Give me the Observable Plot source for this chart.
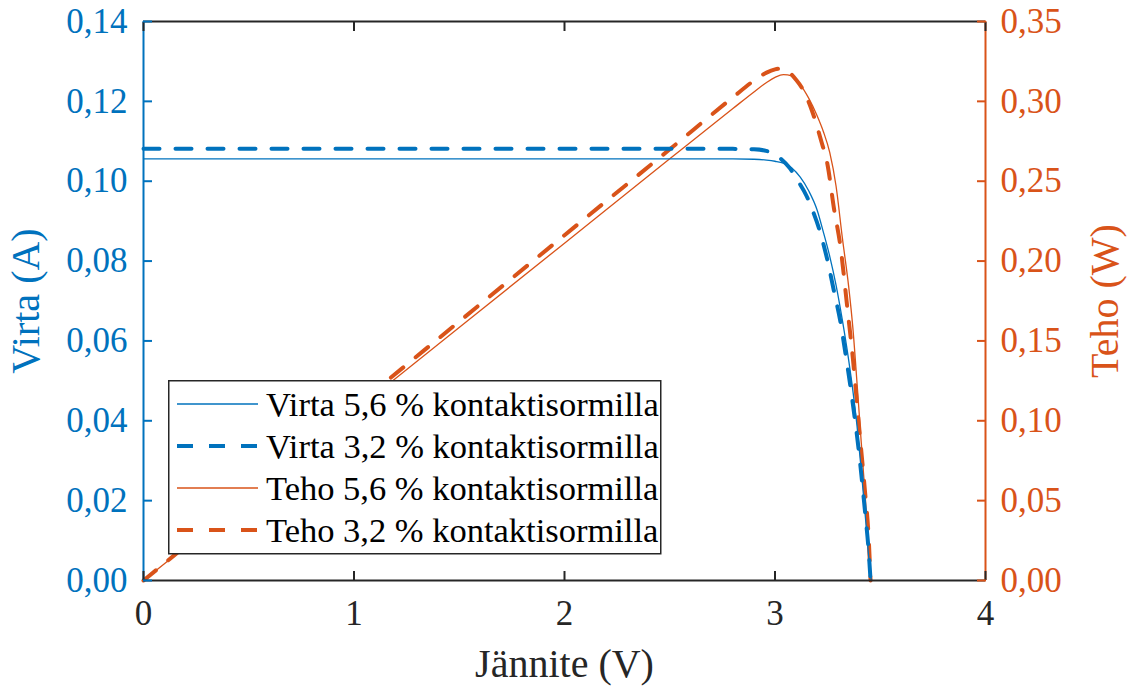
<!DOCTYPE html>
<html>
<head>
<meta charset="utf-8">
<script src="https://cdn.jsdelivr.net/npm/d3@7"></script>
<script src="https://cdn.jsdelivr.net/npm/@observablehq/plot@0.6"></script>
<style>
  html, body { margin: 0; padding: 0; background: #fff; }
  #wrap { position: relative; width: 1138px; height: 687px; font-family: "Liberation Serif", "Times New Roman", serif; }
  #legend { position: absolute; left: 168px; top: 380px; }
</style>
</head>
<body>
<div id="wrap"></div>
<script>
// ---- data ----
const vI56 = [0, 1, 2, 2.8, 2.9, 2.96, 3.0, 3.04, 3.08, 3.12, 3.16, 3.2, 3.23, 3.26, 3.29, 3.32, 3.35, 3.37, 3.39, 3.41, 3.43, 3.445, 3.458];
const iI56 = [0.1056, 0.1056, 0.1056, 0.1056, 0.1055, 0.1053, 0.1050, 0.1045, 0.1033, 0.1010, 0.0976, 0.0928, 0.0872, 0.0812, 0.0740, 0.0652, 0.0552, 0.0475, 0.0385, 0.0275, 0.0155, 0.0060, 0];

const vI32 = [0, 1, 2, 2.8, 2.9, 2.95, 2.99, 3.03, 3.07, 3.11, 3.15, 3.18, 3.21, 3.25, 3.28, 3.31, 3.335, 3.36, 3.378, 3.397, 3.415, 3.43, 3.444, 3.454];
const iI32 = [0.1081, 0.1081, 0.1081, 0.1081, 0.1080, 0.1077, 0.1070, 0.1055, 0.1033, 0.1000, 0.0963, 0.0925, 0.0880, 0.0800, 0.0725, 0.0650, 0.0568, 0.0480, 0.0410, 0.0330, 0.0240, 0.0160, 0.0080, 0];

const vP56 = [0, 1, 2, 2.5, 2.8, 2.9, 2.96, 3.0, 3.04, 3.08, 3.12, 3.16, 3.2, 3.23, 3.26, 3.29, 3.32, 3.35, 3.37, 3.39, 3.41, 3.43, 3.445, 3.458];
const pP56 = [0, 0.1056, 0.2112, 0.264, 0.2955, 0.3059, 0.3118, 0.3150, 0.3168, 0.3160, 0.3105, 0.3020, 0.2910, 0.2810, 0.2680, 0.2470, 0.2145, 0.1840, 0.1580, 0.1230, 0.0860, 0.0500, 0.0190, 0];

const vP32 = [0, 1, 2, 2.5, 2.8, 2.9, 2.96, 3.0, 3.03, 3.06, 3.1, 3.13, 3.18, 3.22, 3.25, 3.28, 3.31, 3.345, 3.37, 3.39, 3.41, 3.43, 3.444, 3.454];
const pP32 = [0, 0.1081, 0.2162, 0.270, 0.3025, 0.3130, 0.3180, 0.3200, 0.3205, 0.3190, 0.3135, 0.3080, 0.2925, 0.2750, 0.2600, 0.2330, 0.2100, 0.1690, 0.1390, 0.1100, 0.0810, 0.0520, 0.0290, 0];

const xTicks = [0, 1, 2, 3, 4];
const currentTicks = [0, 0.02, 0.04, 0.06, 0.08, 0.10, 0.12, 0.14];
const powerTicks = [0, 0.05, 0.10, 0.15, 0.20, 0.25, 0.30, 0.35];
const seriesNames = ["Virta 5,6 % kontaktisormilla", "Virta 3,2 % kontaktisormilla", "Teho 5,6 % kontaktisormilla", "Teho 3,2 % kontaktisormilla"];

const xLabel = "Jännite (V)";
const yLeftLabel = "Virta (A)";
const yRightLabel = "Teho (W)";

// ---- styles ----
const BLUE = "#0072BD";
const ORANGE = "#D95319";
const DARK = "#262626";
const SERIF = "'Liberation Serif', 'Times New Roman', serif";
const currentMax = 0.14, powerMax = 0.35;
const ratio = currentMax / powerMax;

const zip = (xs, ys) => xs.map((x, i) => ({x, y: ys[i]}));
const I56 = zip(vI56, iI56), I32 = zip(vI32, iI32);
const P56 = zip(vP56, pP56), P32 = zip(vP32, pP32);
const fmt = d => d3.format(".2f")(d).replace(".", ",");

const FS = 35;
const txt = {fontFamily: SERIF, fontVariant: "normal"};
const chart = Plot.plot({
  width: 1138,
  height: 687,
  marginLeft: 143,
  marginRight: 153,
  marginTop: 21,
  marginBottom: 107,
  style: {fontFamily: SERIF, background: "white"},
  x: {domain: [0, 4]},
  y: {domain: [0, currentMax]},
  marks: [
    // data
    Plot.line(P56, {x: "x", y: d => d.y * ratio, stroke: ORANGE, strokeWidth: 1.3, curve: "monotone-x"}),
    Plot.line(P32, {x: "x", y: d => d.y * ratio, stroke: ORANGE, strokeWidth: 4, strokeDasharray: "16,16", curve: "monotone-x"}),
    Plot.line(I56, {x: "x", y: "y", stroke: BLUE, strokeWidth: 1.3, curve: "monotone-x"}),
    Plot.line(I32, {x: "x", y: "y", stroke: BLUE, strokeWidth: 4, strokeDasharray: "16,16", curve: "monotone-x"}),
    // frame lines
    Plot.ruleY([currentMax], {stroke: DARK, strokeWidth: 2}),
    Plot.ruleY([0], {stroke: DARK, strokeWidth: 2}),
    Plot.ruleX([0], {stroke: BLUE, strokeWidth: 2}),
    Plot.ruleX([4], {stroke: ORANGE, strokeWidth: 2}),
    // x axis
    Plot.axisX({anchor: "bottom", ticks: xTicks, tickSize: -9, tickFormat: () => "", label: null, stroke: DARK, strokeWidth: 2}),
    Plot.axisX({anchor: "top", ticks: xTicks, tickSize: -9, tickFormat: () => "", label: null, stroke: DARK, strokeWidth: 2}),
    Plot.axisX({anchor: "bottom", ticks: xTicks, tickSize: 0, tickPadding: 20, tickFormat: d => String(d), fontSize: FS, fill: DARK, ...txt,
      label: xLabel, labelAnchor: "center", labelOffset: 96, labelArrow: "none"}),
    // left axis
    Plot.axisY({anchor: "left", ticks: currentTicks, tickSize: -9, tickFormat: () => "", label: null, stroke: BLUE, strokeWidth: 2}),
    Plot.axisY({anchor: "left", ticks: currentTicks, tickSize: 0, tickPadding: 16, tickFormat: fmt, fontSize: FS, fill: BLUE, ...txt,
      label: yLeftLabel, labelAnchor: "center", labelOffset: 133, labelArrow: "none"}),
    // right axis
    Plot.axisY({anchor: "right", ticks: powerTicks.map(p => p * ratio), tickSize: -9, tickFormat: () => "", label: null, stroke: ORANGE, strokeWidth: 2}),
    Plot.axisY({anchor: "right", ticks: powerTicks.map(p => p * ratio), tickSize: 0, tickPadding: 15, tickFormat: v => fmt(v / ratio), fontSize: FS, fill: ORANGE, ...txt,
      label: yRightLabel, labelAnchor: "center", labelOffset: 132, labelArrow: "none"})
  ]
});
// Axis titles: larger, no arrows
d3.select(chart).selectAll("g[aria-label$='axis label']").style("font-size", "40px")
  .selectAll("text").each(function() { this.textContent = this.textContent.replace(/\s*[↑→↓←]\s*/g, ""); });
d3.select(chart).selectAll("text").style("font-family", SERIF).style("font-variant", "normal");
document.getElementById("wrap").appendChild(chart);

// ---- legend ----
const legendStyles = [
  {stroke: BLUE, width: 1.3, dash: null},
  {stroke: BLUE, width: 4, dash: "16,16"},
  {stroke: ORANGE, width: 1.3, dash: null},
  {stroke: ORANGE, width: 4, dash: "16,16"}
];
const lg = d3.select("#wrap").append("svg").attr("id", "legend").attr("width", 494).attr("height", 175);
lg.append("rect").attr("x", 0.75).attr("y", 0.75).attr("width", 492).attr("height", 173)
  .attr("fill", "white").attr("stroke", DARK).attr("stroke-width", 1.5);
seriesNames.forEach((name, i) => {
  const cy = 24 + i * 42;
  lg.append("line").attr("x1", 9).attr("x2", 90).attr("y1", cy).attr("y2", cy)
    .attr("stroke", legendStyles[i].stroke).attr("stroke-width", legendStyles[i].width)
    .attr("stroke-dasharray", legendStyles[i].dash);
  lg.append("text").attr("x", 98).attr("y", cy).attr("dy", "0.35em")
    .attr("font-family", SERIF).attr("font-size", 34.5).attr("fill", "#000")
    .text(name);
});
</script>
</body>
</html>
